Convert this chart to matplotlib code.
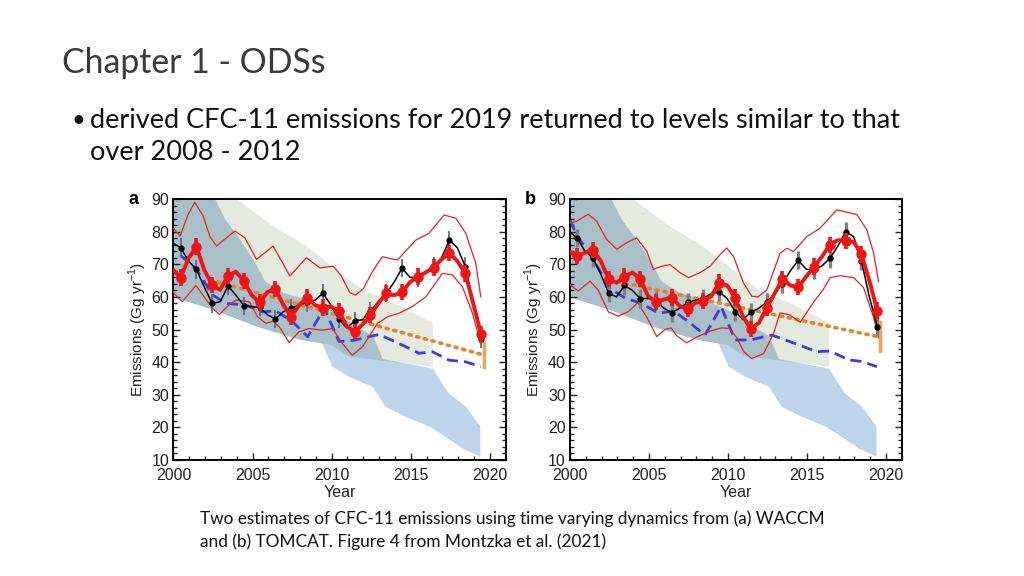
import numpy as np
import matplotlib
matplotlib.use("Agg")
import matplotlib.pyplot as plt
from matplotlib.ticker import MultipleLocator

# ---------------------------
# Data
# ---------------------------
# half-year grid for the smooth-ish curves; markers sit on every 2nd point
yr_half = [2000.0] + [2000.45 + 0.5 * k for k in range(39)]

# panel a (WACCM)
a_red = [68.2, 65.9, 71.8, 75.4, 68.2, 63.6, 62.1, 66.5, 67.7, 64.9,
         60.5, 58.3, 61.5, 62.4, 57.5, 53.9, 57.5, 59.8, 57.5, 56.7,
         57.0, 55.7, 51.0, 49.3, 51.5, 54.4, 58.0, 61.1, 60.5, 61.4,
         64.5, 66.2, 67.5, 69.0, 71.5, 73.4, 71.0, 67.2, 58.0, 48.5]
a_black = [76.4, 75.1, 71.0, 68.4, 63.0, 58.0, 58.5, 63.3, 60.5, 57.3,
           57.0, 56.8, 54.5, 53.2, 55.5, 56.5, 57.5, 58.3, 59.0, 61.1,
           57.5, 53.2, 50.5, 52.6, 53.0, 55.7, 58.5, 61.1, 64.5, 68.8,
           66.0, 65.9, 67.5, 69.3, 72.0, 77.4, 75.0, 69.3, 58.0, 47.0]

a_up_x = [2000.0, 2000.42, 2000.9, 2001.35, 2001.88, 2002.3, 2002.72, 2003.35,
          2003.88, 2004.51, 2005.25, 2006.3, 2007.36, 2008.4, 2009.25, 2010.1,
          2010.6, 2011.15, 2011.5, 2012.0, 2012.6, 2013.2, 2014.16, 2015.32,
          2016.16, 2017.11, 2017.85, 2018.48, 2019.11, 2019.43]
a_up_y = [81.0, 78.6, 85.0, 89.0, 84.8, 78.5, 75.6, 78.1,
          80.2, 78.1, 71.5, 75.6, 66.4, 72.0, 68.9, 69.4,
          66.5, 61.3, 60.5, 62.5, 67.9, 72.3, 71.3, 77.4,
          79.5, 85.1, 84.1, 79.5, 70.3, 60.0]
a_lo_x = [2000.0, 2000.55, 2001.42, 2002.47, 2002.9, 2003.5, 2003.94, 2004.8,
          2005.3, 2005.84, 2006.3, 2006.7, 2007.31, 2007.94, 2008.58, 2009.42,
          2010.05, 2010.68, 2011.3, 2011.95, 2012.9, 2013.53, 2014.27, 2015.1,
          2015.95, 2017.0, 2017.64, 2018.27, 2018.9, 2019.43]
a_lo_y = [61.3, 58.5, 63.5, 56.5, 54.6, 57.5, 59.0, 58.5,
          54.0, 51.9, 52.5, 50.8, 46.0, 49.3, 50.3, 49.8,
          50.3, 45.7, 42.1, 44.7, 51.9, 53.9, 55.0, 57.0,
          60.0, 67.2, 66.7, 63.1, 55.0, 45.7]

a_blue_x = [2000.42, 2001.42, 2002.47, 2003.31, 2004.57, 2005.63, 2006.47, 2007.53,
            2008.48, 2009.53, 2010.47, 2011.42, 2013.0, 2014.48, 2015.53, 2016.37,
            2017.42, 2018.48, 2019.43]
a_blue_y = [72.8, 68.7, 60.6, 58.0, 57.5, 55.4, 55.7, 52.4,
            47.8, 56.5, 46.3, 46.7, 48.5, 45.2, 42.7, 43.2,
            40.6, 40.1, 38.6]

a_orange_x = [2002.3, 2019.45]
a_orange_y = [65.2, 42.4]
a_orange_bar = [2019.6, 38.6, 45.9]  # x, low, high

# panel b (TOMCAT)
b_red = [73.8, 72.5, 73.5, 74.4, 71.0, 65.4, 64.3, 66.2, 67.5, 65.4,
         60.2, 58.5, 59.2, 59.8, 57.2, 56.2, 58.2, 58.7, 60.2, 64.4,
         63.5, 59.8, 54.0, 50.1, 52.0, 56.5, 61.0, 65.5, 63.5, 63.0,
         66.2, 69.3, 72.3, 76.0, 77.4, 77.1, 76.9, 73.0, 65.0, 55.8]
b_black = [79.8, 78.1, 74.0, 72.0, 67.0, 61.1, 60.0, 63.5, 62.0, 59.5,
           59.5, 59.0, 56.5, 55.2, 56.5, 58.3, 59.0, 59.6, 61.0, 61.5,
           59.5, 55.5, 53.0, 55.3, 56.5, 58.3, 61.0, 64.1, 68.0, 71.2,
           68.5, 68.2, 69.5, 71.8, 75.5, 80.0, 78.5, 71.0, 60.0, 50.9]

b_up_x = [2000.0, 2000.42, 2001.16, 2001.69, 2002.32, 2002.96, 2003.59, 2004.22,
          2004.86, 2005.28, 2005.81, 2006.33, 2006.97, 2007.5, 2008.23, 2008.87,
          2009.4, 2009.92, 2010.35, 2010.98, 2011.51, 2011.9, 2012.46, 2013.3,
          2013.73, 2014.15, 2015.0, 2015.84, 2016.89, 2017.74, 2018.16, 2018.79,
          2019.22, 2019.53]
b_up_y = [82.5, 83.2, 85.3, 83.2, 77.6, 74.6, 76.6, 78.1,
          74.0, 68.4, 69.4, 69.9, 67.4, 65.9, 67.4, 69.4,
          72.4, 75.0, 72.4, 64.3, 60.2, 60.0, 62.1, 73.4,
          74.9, 73.9, 78.5, 81.1, 86.7, 85.7, 85.2, 80.6,
          73.4, 64.8]
b_lo_x = [2000.0, 2000.53, 2001.27, 2001.8, 2002.43, 2003.06, 2003.7, 2004.3,
          2004.96, 2005.49, 2006.02, 2006.4, 2006.76, 2007.39, 2008.02, 2008.87,
          2009.6, 2010.1, 2010.56, 2011.0, 2011.5, 2012.25, 2012.88, 2013.3,
          2013.9, 2014.57, 2015.42, 2016.0, 2016.47, 2017.1, 2017.95, 2018.58,
          2019.22, 2019.53]
b_lo_y = [63.8, 61.8, 64.8, 62.0, 55.4, 54.1, 55.5, 58.2,
          52.9, 47.8, 50.0, 50.5, 48.1, 45.9, 47.7, 49.5,
          50.5, 50.3, 47.5, 43.2, 41.1, 42.6, 48.7, 55.1,
          54.5, 52.2, 58.4, 62.0, 65.9, 66.5, 65.9, 62.9,
          53.7, 47.5]

b_blue_x = [2000.0, 2000.42, 2001.37, 2002.53, 2003.5, 2004.54, 2005.6, 2006.55,
            2007.5, 2008.55, 2009.57, 2010.45, 2011.4, 2012.78, 2014.47, 2015.63,
            2016.47, 2017.63, 2018.48, 2019.43]
b_blue_y = [83.6, 79.0, 72.3, 62.6, 59.6, 58.0, 55.0, 55.7,
            52.4, 48.3, 57.0, 46.8, 46.8, 48.3, 45.3, 43.2,
            43.4, 40.7, 40.2, 38.6]

b_orange_x = [2002.5, 2019.5]
b_orange_y = [65.2, 47.8]
b_orange_bar = [2019.65, 43.3, 52.3]

# model ranges (same in both panels)
green_up_x = [2000.0, 2004.0, 2006.3, 2008.4, 2010.0, 2012.0, 2014.0, 2016.4]
green_up_y = [100.0, 90.0, 81.7, 75.6, 69.5, 62.0, 58.0, 52.0]
green_lo_x = [2000.0, 2002.5, 2005.25, 2008.0, 2009.9, 2011.0, 2013.2, 2016.4]
green_lo_y = [60.0, 56.2, 51.0, 47.0, 45.5, 42.0, 40.6, 38.6]

blue_up_x = [2000.0, 2002.6, 2003.25, 2004.2, 2005.14, 2005.78, 2006.93, 2008.4,
             2009.9, 2011.15, 2012.6, 2013.2, 2016.4, 2017.4, 2018.5, 2019.4]
blue_up_y = [100.0, 90.0, 83.8, 77.6, 70.5, 64.8, 61.3, 59.2,
             56.2, 52.1, 48.0, 41.0, 38.0, 30.4, 26.3, 20.2]
blue_lo_x = [2000.0, 2002.5, 2005.25, 2008.0, 2009.4, 2010.05, 2011.1, 2012.6,
             2013.4, 2014.7, 2016.2, 2017.2, 2018.3, 2019.4]
blue_lo_y = [60.0, 56.2, 51.0, 47.0, 45.7, 38.6, 35.5, 32.4,
             26.3, 23.2, 20.2, 17.1, 13.5, 11.0]

red_err = 2.5
black_err = 2.8

# ---------------------------
# Styles
# ---------------------------
GREEN = "#e4eadd"
BLUE = "#bdd4eb"
OVERLAP = "#a9c0c9"
RED = "#f01414"
THIN_RED = "#e62222"
DASH_BLUE = "#3c3ce0"
ORANGE = "#e0852a"
ORANGE_BAR = "#f2a55a"
TICK_FONT = "Liberation Sans"
TEXT_FONT = "Lato"


def band(ax, ux, uy, lx, ly, color):
    xs = np.r_[ux, lx[::-1]]
    ys = np.r_[uy, ly[::-1]]
    ax.fill(xs, ys, color=color, lw=0, zorder=1)


def draw_panel(ax, red, black, upx, upy, lox, loy, bx, by, ox, oy, obar, err_color, err_lw, label):
    # shaded ranges
    band(ax, green_up_x, green_up_y, green_lo_x, green_lo_y, GREEN)
    band(ax, blue_up_x, blue_up_y, blue_lo_x, blue_lo_y, BLUE)
    grid = np.linspace(2000, 2016.4, 400)
    top = np.minimum(np.interp(grid, green_up_x, green_up_y), np.interp(grid, blue_up_x, blue_up_y))
    bot = np.maximum(np.interp(grid, green_lo_x, green_lo_y), np.interp(grid, blue_lo_x, blue_lo_y))
    ax.fill_between(grid, bot, top, where=top > bot, color=OVERLAP, lw=0, zorder=1.5)

    ax.plot(ox, oy, color=ORANGE, lw=2.6, ls=(0, (0.6, 1.6)), dash_capstyle="round", zorder=3)
    ax.plot([obar[0], obar[0]], [obar[1], obar[2]], color=ORANGE_BAR, lw=2.5, zorder=3)
    ax.plot(bx, by, color=DASH_BLUE, lw=2.0, ls=(0, (4, 2.2)), zorder=3)

    ax.plot(upx, upy, color=THIN_RED, lw=0.9, zorder=4)
    ax.plot(lox, loy, color=THIN_RED, lw=0.9, zorder=4)

    x = np.array(yr_half)
    black = np.array(black)
    red = np.array(red)
    ax.errorbar(x[1::2], black[1::2], yerr=black_err, fmt="none", ecolor=err_color, elinewidth=err_lw, zorder=5)
    ax.plot(x, black, color="black", lw=1.1, zorder=5)
    ax.plot(x[1::2], black[1::2], "o", color="black", ms=3.5, zorder=5)

    ax.plot(x, red, color=RED, lw=2.8, solid_joinstyle="round", zorder=6)
    ax.errorbar(x[1::2], red[1::2], yerr=red_err, fmt="o", color=RED, ms=6.5, elinewidth=2.6, capsize=0, zorder=7)

    ax.set_xlim(2000, 2021)
    ax.set_ylim(10, 90)
    ax.xaxis.set_major_locator(MultipleLocator(5))
    ax.xaxis.set_minor_locator(MultipleLocator(1))
    ax.yaxis.set_major_locator(MultipleLocator(10))
    ax.yaxis.set_minor_locator(MultipleLocator(2))
    ax.tick_params(which="both", direction="in", right=True, top=False, width=1, color="#222222")
    ax.tick_params(which="major", length=5, labelsize=11.5, labelcolor="#222222", pad=3)
    ax.tick_params(axis="x", which="major", pad=6)
    ax.tick_params(which="minor", length=3)
    for lab in ax.get_xticklabels() + ax.get_yticklabels():
        lab.set_fontfamily(TICK_FONT)
    for sp in ax.spines.values():
        sp.set_linewidth(1.4)
    ax.set_xlabel("Year", fontfamily=TICK_FONT, fontsize=11.5, color="#222222", labelpad=1)
    ax.set_ylabel("Emissions (Gg yr$^{-1}$)", fontfamily=TICK_FONT, fontsize=11, color="#222222", labelpad=2)
    ax.text(-0.135, 1.0, label, transform=ax.transAxes, fontfamily=TICK_FONT, fontsize=13,
            fontweight="bold", va="center", ha="left")


plt.rcParams["mathtext.fontset"] = "custom"
plt.rcParams["mathtext.rm"] = TICK_FONT

fig = plt.figure(figsize=(10.24, 5.76), dpi=100)
ax_a = fig.add_axes([0.1694, 0.2014, 0.3244, 0.4531])
ax_b = fig.add_axes([0.5566, 0.2014, 0.3240, 0.4531])

draw_panel(ax_a, a_red, a_black, a_up_x, a_up_y, a_lo_x, a_lo_y, a_blue_x, a_blue_y,
           a_orange_x, a_orange_y, a_orange_bar, "#5a6896", 1.3, "a")
draw_panel(ax_b, b_red, b_black, b_up_x, b_up_y, b_lo_x, b_lo_y, b_blue_x, b_blue_y,
           b_orange_x, b_orange_y, b_orange_bar, "#808080", 2.4, "b")

# slide text
fig.text(62 / 1024, 1 - 63 / 576, "Chapter 1 - ODSs", fontfamily=TEXT_FONT,
         fontsize=24.3, color="#3a3a3a", va="center", ha="left")
fig.text(71 / 1024, 1 - 121 / 576, "\u2022", fontfamily=TEXT_FONT, fontsize=17, color="#111111",
         va="center", ha="left")
fig.text(90 / 1024, 1 - 121 / 576, "derived CFC-11 emissions for 2019 returned to levels similar to that",
         fontfamily=TEXT_FONT, fontsize=19.5, color="#111111", va="center", ha="left")
fig.text(90 / 1024, 1 - 153 / 576, "over 2008 - 2012",
         fontfamily=TEXT_FONT, fontsize=19.5, color="#111111", va="center", ha="left")
fig.text(200 / 1024, 1 - 519 / 576,
         "Two estimates of CFC-11 emissions using time varying dynamics from (a) WACCM",
         fontfamily=TEXT_FONT, fontsize=12.4, color="#111111", va="center", ha="left")
fig.text(200 / 1024, 1 - 542 / 576,
         "and (b) TOMCAT. Figure 4 from Montzka et al. (2021)",
         fontfamily=TEXT_FONT, fontsize=12.4, color="#111111", va="center", ha="left")

fig.savefig("out.png", dpi=100, facecolor="white")
